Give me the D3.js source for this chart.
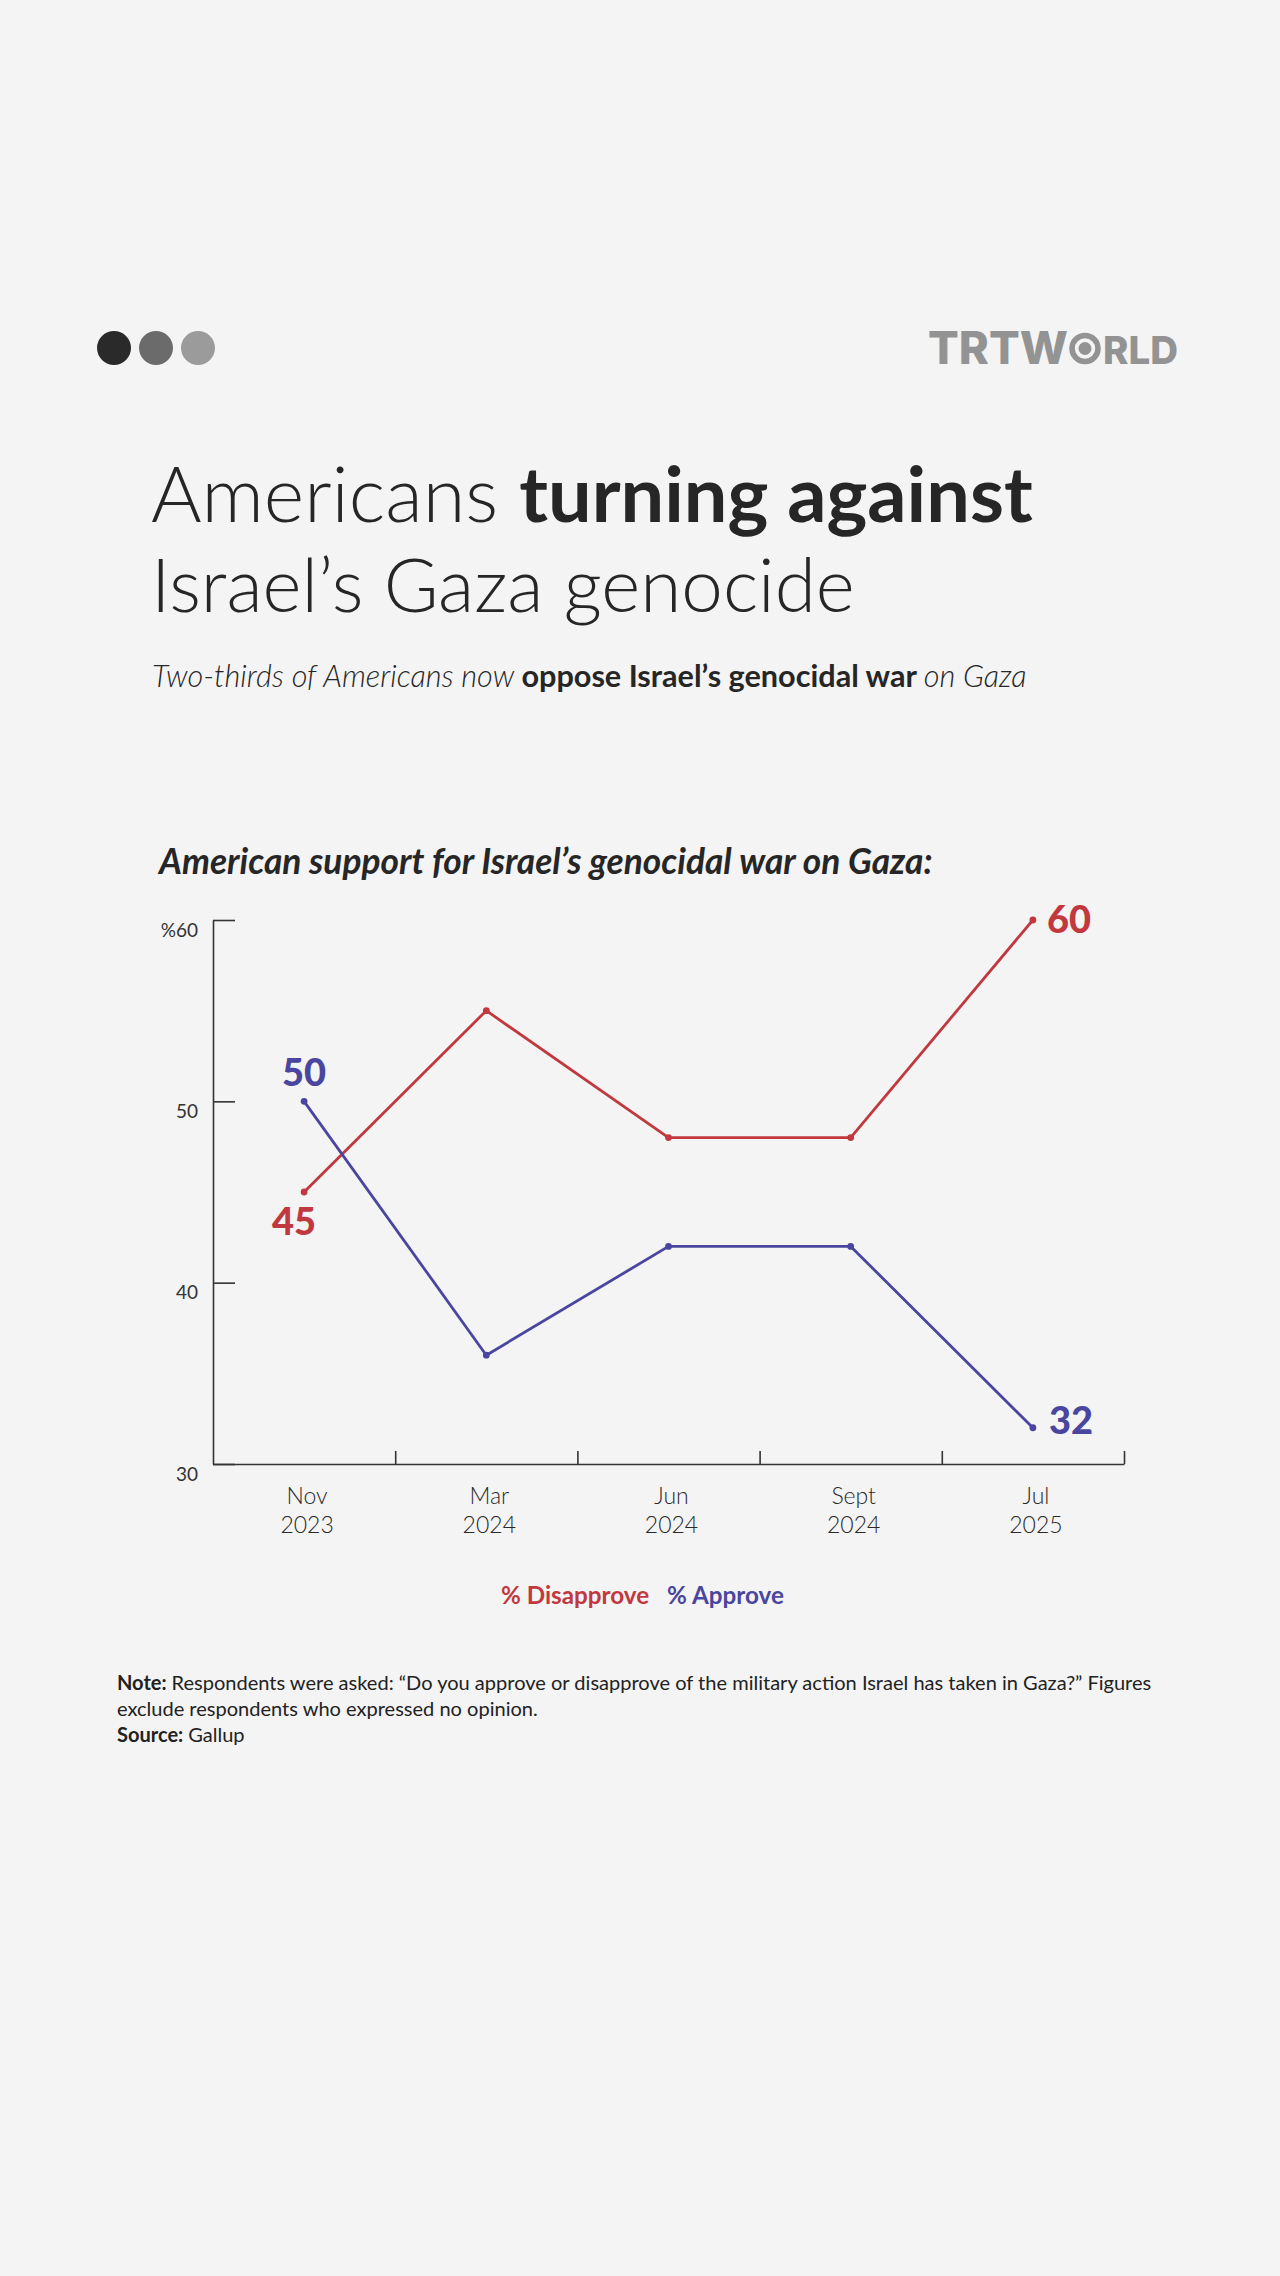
<!DOCTYPE html>
<html>
<head>
<meta charset="utf-8">
<script src="https://cdn.jsdelivr.net/npm/d3@7"></script>
<style>
  html, body { margin: 0; padding: 0; background: #f4f4f4; }
  svg { display: block; }
</style>
</head>
<body>
<div id="chart"></div>
<script>
// data
const months = ["Nov", "Mar", "Jun", "Sept", "Jul"];
const years = ["2023", "2024", "2024", "2024", "2025"];
const disapprove = [45, 55, 48, 48, 60];
const approve = [50, 36, 42, 42, 32];
const yTicks = [30, 40, 50, 60];

const W = 1280, H = 2276;
const red = "#c1393e", blue = "#4a469f", ink = "#262626";
const font = "Lato, 'Open Sans', sans-serif";

// scale a text's font-size so it spans the wanted width
function fit(sel, width) {
    const len = sel.node().getComputedTextLength();
    const fs = parseFloat(sel.attr("font-size"));
    sel.attr("font-size", fs * width / len);
    return sel;
}

const svg = d3.select("#chart").append("svg")
    .attr("width", W)
    .attr("height", H)
    .attr("font-family", font);

svg.append("rect")
    .attr("width", W)
    .attr("height", H)
    .attr("fill", "#f4f4f4");

// header: three dots + logo
svg.append("g")
    .selectAll("circle")
    .data(["#2a2a2a", "#6b6b6b", "#9b9b9b"])
    .join("circle")
    .attr("cx", (d, i) => 114 + i * 42)
    .attr("cy", 348)
    .attr("r", 17)
    .attr("fill", d => d);

const logo = svg.append("g").attr("fill", "#939393");
fit(logo.append("text")
    .attr("x", 928).attr("y", 364)
    .attr("font-family", "Inter, sans-serif")
    .attr("font-weight", 800)
    .attr("font-size", 43)
    .text("TRTW"), 140);
logo.append("circle")
    .attr("cx", 1085).attr("cy", 348.5).attr("r", 13)
    .attr("fill", "none").attr("stroke", "#939393").attr("stroke-width", 5.5);
logo.append("circle")
    .attr("cx", 1085).attr("cy", 348.5).attr("r", 6.5);
fit(logo.append("text")
    .attr("x", 1103).attr("y", 364)
    .attr("font-family", "Inter, sans-serif")
    .attr("font-weight", 800)
    .attr("font-size", 43)
    .text("RLD"), 75);

// title
const t1 = svg.append("text")
    .attr("x", 151).attr("y", 522)
    .attr("font-size", 62)
    .attr("fill", ink);
t1.append("tspan").attr("font-weight", 300).text("Americans ");
t1.append("tspan").attr("font-weight", 700).text("turning against");
fit(t1, 882);

fit(svg.append("text")
    .attr("x", 151).attr("y", 612)
    .attr("font-size", 62)
    .attr("font-weight", 300)
    .attr("fill", ink)
    .text("Israel\u2019s Gaza genocide"), 704);

const sub = svg.append("text")
    .attr("x", 152).attr("y", 687)
    .attr("font-size", 24)
    .attr("fill", ink);
sub.append("tspan").attr("font-style", "italic").attr("font-weight", 300)
    .text("Two-thirds of Americans now ");
sub.append("tspan").attr("font-weight", 700)
    .text("oppose Israel\u2019s genocidal war ");
sub.append("tspan").attr("font-style", "italic").attr("font-weight", 300)
    .text("on Gaza");
fit(sub, 875);

fit(svg.append("text")
    .attr("x", 159).attr("y", 874)
    .attr("font-size", 28)
    .attr("font-weight", 700)
    .attr("font-style", "italic")
    .attr("fill", ink)
    .text("American support for Israel\u2019s genocidal war on Gaza:"), 774);

// chart
const plotLeft = 213, plotRight = 1124, plotTop = 920, plotBottom = 1464;

const x = d3.scaleBand()
    .domain(months.map((m, i) => i))
    .range([plotLeft, plotRight]);

const xEdge = d3.scaleLinear()
    .domain([0, months.length])
    .range([plotLeft, plotRight]);

const y = d3.scaleLinear()
    .domain([30, 60])
    .range([plotBottom, plotTop]);

const cx = i => x(i) + x.bandwidth() / 2;

const yAxis = svg.append("g")
    .attr("transform", `translate(${plotLeft},0)`)
    .call(d3.axisLeft(y)
        .tickValues(yTicks)
        .tickSizeInner(-22)
        .tickSizeOuter(0)
        .tickPadding(15)
        .tickFormat(d => d === 60 ? "%60" : d));
yAxis.select(".domain").attr("stroke", "#333").attr("stroke-width", 1.6);
yAxis.selectAll(".tick line").attr("stroke", "#333").attr("stroke-width", 1.6);
yAxis.selectAll(".tick text")
    .attr("font-family", font)
    .attr("font-size", 19)
    .attr("fill", "#333")
    .attr("dy", "0.85em");

const xAxis = svg.append("g")
    .attr("transform", `translate(0,${plotBottom})`)
    .call(d3.axisBottom(xEdge)
        .tickValues(d3.range(1, months.length + 1))
        .tickSizeInner(-13)
        .tickSizeOuter(0)
        .tickFormat(""));
xAxis.select(".domain").attr("stroke", "#333").attr("stroke-width", 1.6);
xAxis.selectAll(".tick line").attr("stroke", "#333").attr("stroke-width", 1.6);

const xl = svg.append("g")
    .attr("font-size", 23)
    .attr("font-weight", 300)
    .attr("fill", "#2a2a2a")
    .attr("text-anchor", "middle");
xl.selectAll(".m")
    .data(months)
    .join("text")
    .attr("class", "m")
    .attr("x", (d, i) => cx(i) + 3)
    .attr("y", plotBottom + 40)
    .text(d => d);
xl.selectAll(".yr")
    .data(years)
    .join("text")
    .attr("class", "yr")
    .attr("x", (d, i) => cx(i) + 3)
    .attr("y", plotBottom + 69)
    .text(d => d);

const line = d3.line()
    .x((d, i) => cx(i))
    .y(d => y(d));

const series = [
    { values: disapprove, color: red },
    { values: approve, color: blue }
];

for (const s of series) {
    svg.append("path")
        .datum(s.values)
        .attr("d", line)
        .attr("fill", "none")
        .attr("stroke", s.color)
        .attr("stroke-width", 2.8)
        .attr("stroke-linejoin", "round");
    svg.append("g")
        .selectAll("circle")
        .data(s.values)
        .join("circle")
        .attr("cx", (d, i) => cx(i))
        .attr("cy", d => y(d))
        .attr("r", 3.4)
        .attr("fill", s.color);
}

// end labels
const last = months.length - 1;
const labels = [
    { i: 0, v: approve[0], color: blue, dx: 0, dy: -15, anchor: "middle" },
    { i: 0, v: disapprove[0], color: red, dx: -10, dy: 43, anchor: "middle" },
    { i: last, v: disapprove[last], color: red, dx: 14, dy: 13, anchor: "start" },
    { i: last, v: approve[last], color: blue, dx: 16, dy: 6, anchor: "start" }
];
svg.append("g")
    .attr("font-size", 38)
    .attr("font-weight", 900)
    .selectAll("text")
    .data(labels)
    .join("text")
    .attr("x", d => cx(d.i) + d.dx)
    .attr("y", d => y(d.v) + d.dy)
    .attr("text-anchor", d => d.anchor)
    .attr("fill", d => d.color)
    .text(d => d.v);

// legend
const lg = svg.append("text")
    .attr("x", 501).attr("y", 1604)
    .attr("font-size", 21)
    .attr("font-weight", 700);
lg.append("tspan").attr("fill", red).text("% Disapprove");
lg.append("tspan").attr("fill", blue).attr("dx", 18).text("% Approve");
fit(lg, 265);

// note
const noteLines = [
    [["Note: ", 700], ["Respondents were asked: \u201cDo you approve or disapprove of the military action Israel has taken in Gaza?\u201d Figures", 400]],
    [["exclude respondents who expressed no opinion.", 400]],
    [["Source: ", 700], ["Gallup", 400]]
];
const note = svg.append("g").attr("fill", "#222");
const noteText = noteLines.map((parts, k) => {
    const t = note.append("text")
        .attr("x", 117)
        .attr("y", 1690 + k * 26)
        .attr("font-size", 18);
    parts.forEach(p => t.append("tspan").attr("font-weight", p[1]).text(p[0]));
    return t;
});
const ratio = 1035 / noteText[0].node().getComputedTextLength();
noteText.forEach(t => t.attr("font-size", 18 * ratio));
</script>
</body>
</html>
